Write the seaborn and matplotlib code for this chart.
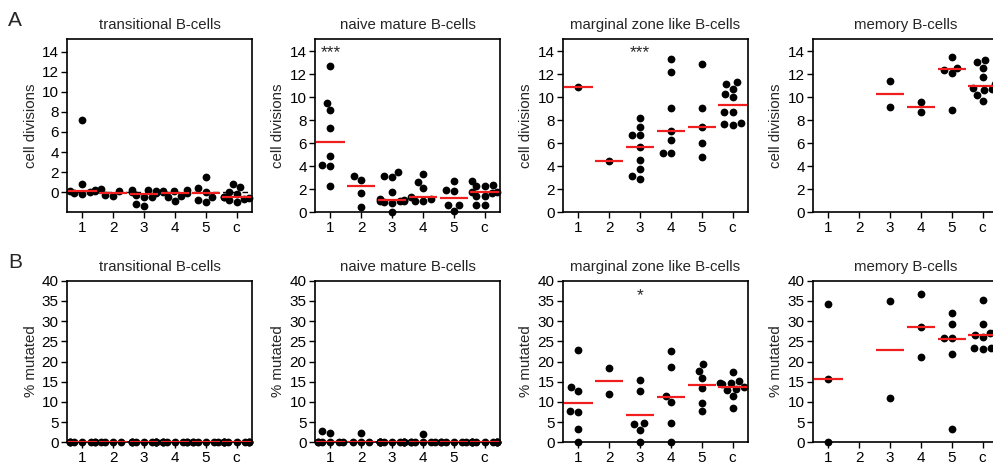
import warnings
import matplotlib
matplotlib.use('Agg')
import matplotlib.pyplot as plt
import seaborn as sns
import pandas as pd

warnings.filterwarnings('ignore')

groups = ['1', '2', '3', '4', '5', 'c']
titles = ['transitional B-cells', 'naive mature B-cells',
          'marginal zone like B-cells', 'memory B-cells']

# ---- Row A: cell divisions ----
div_transitional = {
    '1': [7.2, 0.85, 0.2, 0.15, 0.0, -0.1, -0.2, 0.1],
    '2': [0.3, 0.15, -0.35, -0.3],
    '3': [0.15, -0.5, -0.1, -0.25, -1.4, 0.0, 0.2, -1.15, 0.25, -0.45],
    '4': [0.1, 0.2, -0.35, -0.9, -0.5, 0.1, -0.1, 0.0],
    '5': [1.5, 0.4, -0.45, -0.95, 0.05, -0.75],
    'c': [0.8, -0.45, 0.05, -1.0, -0.45, -0.2, 0.5, -0.7, -0.6, -0.8],
}
div_naive = {
    '1': [12.7, 9.5, 8.9, 7.3, 4.9, 4.1, 4.0, 2.3],
    '2': [2.8, 3.15, 1.7, 0.45],
    '3': [3.5, 3.05, 3.2, 1.75, 0.95, 0.85, 0.95, 0.9, 1.2, 1.1, 0.05, 1.0],
    '4': [3.35, 2.65, 2.1, 1.2, 0.95, 1.0, 1.35],
    '5': [2.75, 1.95, 1.85, 0.6, 0.6, 0.1],
    'c': [2.3, 2.4, 1.4, 1.8, 1.45, 2.7, 2.3, 0.6, 0.6, 1.7, 1.75],
}
div_mz = {
    '1': [10.9],
    '2': [4.45],
    '3': [6.75, 6.75, 7.45, 8.2, 4.55, 5.65, 2.9, 3.75, 3.15],
    '4': [13.35, 12.25, 9.1, 7.1, 6.25, 5.15, 5.2],
    '5': [12.9, 9.05, 7.4, 6.0, 4.8],
    'c': [11.3, 11.2, 10.75, 10.0, 10.3, 8.75, 8.75, 7.75, 7.6, 7.65],
}
div_memory = {
    '1': [], '2': [],
    '3': [11.4, 9.15],
    '4': [9.6, 8.7],
    '5': [13.55, 12.4, 12.1, 12.6, 8.9],
    'c': [13.25, 13.05, 12.55, 11.75, 11.15, 10.7, 10.6, 10.2, 9.7, 10.8],
}
div_centers = [
    [0.1, -0.1, -0.2, -0.05, -0.1, -0.5],
    [6.1, 2.28, 1.07, 1.37, 1.22, 1.77],
    [10.9, 4.45, 5.69, 7.09, 7.38, 9.35],
    [None, None, 10.28, 9.18, 12.43, 10.95],
]

# ---- Row B: % mutated ----
mut_transitional = {
    '1': [0] * 8, '2': [0] * 4, '3': [0] * 10,
    '4': [0] * 8, '5': [0] * 6, 'c': [0] * 10,
}
mut_naive = {
    '1': [0, 0, 0, 0, 0, 0, 2.8, 2.4],
    '2': [0, 0, 0, 2.3],
    '3': [0] * 12,
    '4': [0, 0, 0, 0, 0, 0, 2.05],
    '5': [0] * 6,
    'c': [0] * 11,
}
mut_mz = {
    '1': [22.9, 13.8, 12.8, 7.5, 7.7, 3.2, 0.0],
    '2': [18.3, 12.0],
    '3': [15.4, 12.7, 4.45, 4.7, 3.05, 0.0],
    '4': [22.7, 18.6, 11.5, 9.9, 4.9, 0.0],
    '5': [17.65, 19.3, 15.85, 13.35, 7.85, 9.8],
    'c': [17.5, 15.2, 14.4, 12.9, 14.6, 14.7, 13.2, 11.5, 8.4, 13.8],
}
mut_memory = {
    '1': [34.3, 15.6, 0.0],
    '2': [],
    '3': [34.9, 10.9],
    '4': [36.6, 28.45, 21.2],
    '5': [31.9, 29.3, 25.7, 25.7, 21.9, 3.3],
    'c': [35.1, 29.2, 27.3, 26.6, 26.1, 27.0, 23.4, 23.2, 23.3],
}
mut_centers = [
    [0, 0, 0, 0, 0, 0],
    [0, 0, 0, 0, 0, 0],
    [9.65, 15.2, 6.7, 11.2, 14.1, 13.6],
    [15.6, None, 22.9, 28.45, 25.6, 26.55],
]

# significance marks: (panel row, panel col, group, y, text)
stars = [(0, 1, '1', 13.9, '***'), (0, 2, '3', 13.9, '***'), (1, 2, '3', 36.3, '*')]

sns.set_theme(style='ticks')
plt.rcParams['font.family'] = ['Liberation Sans', 'DejaVu Sans']

W, H = 993, 466
fig = plt.figure(figsize=(W / 100, H / 100), dpi=100)

lefts = [67, 315, 563, 813]
axw = 185
rows = [
    dict(data=[div_transitional, div_naive, div_mz, div_memory], centers=div_centers,
         top=39, bottom=212.3, ylabel='cell divisions', yticks=list(range(0, 15, 2)),
         ylims=[(-2, 15.25), (0, 15.08), (0, 15.08), (0, 15.08)]),
    dict(data=[mut_transitional, mut_naive, mut_mz, mut_memory], centers=mut_centers,
         top=280.7, bottom=442.3, ylabel='% mutated', yticks=list(range(0, 41, 5)),
         ylims=[(0, 40)] * 4),
]
red = '#f01e1e'

for r, row in enumerate(rows):
    for c in range(4):
        ax = fig.add_axes([lefts[c] / W, 1 - row['bottom'] / H, axw / W,
                           (row['bottom'] - row['top']) / H])
        d = row['data'][c]
        recs = [(g, v) for g in groups for v in d[g]]
        df = pd.DataFrame(recs, columns=['group', 'value'])
        sns.swarmplot(data=df, x='group', y='value', order=groups, color='black',
                      size=5.6, ax=ax, clip_on=False, zorder=3, linewidth=0)
        if r == 0 and c == 0:
            ax.axhline(0, color='black', lw=1.0, ls=(0, (4, 3)), zorder=2)
        for i, m in enumerate(row['centers'][c]):
            if m is not None:
                ax.hlines(m, i - 0.46, i + 0.46, color=red, lw=1.6, zorder=4)
        ax.set_xlim(-0.5, 5.5)
        ax.set_ylim(*row['ylims'][c])
        ax.set_yticks(row['yticks'])
        ax.set_xlabel('')
        ax.set_ylabel(row['ylabel'], fontsize=10.8, labelpad=3)
        ax.set_title(titles[c], fontsize=10.8, pad=7)
        for s in ax.spines.values():
            s.set_visible(True)
            s.set_linewidth(1.2)
            s.set_color('black')
        ax.tick_params(direction='out', length=4, width=1, labelsize=11,
                       colors='black', pad=2)
        for (rr, cc, g, y, t) in stars:
            if rr == r and cc == c:
                ax.text(groups.index(g), y, t, ha='center', va='center', fontsize=12.5)

fig.text(15 / W, 1 - 21 / H, 'A', fontsize=15, ha='center', va='center')
fig.text(15 / W, 1 - 263 / H, 'B', fontsize=15, ha='center', va='center')

fig.savefig('out.png', dpi=100)
